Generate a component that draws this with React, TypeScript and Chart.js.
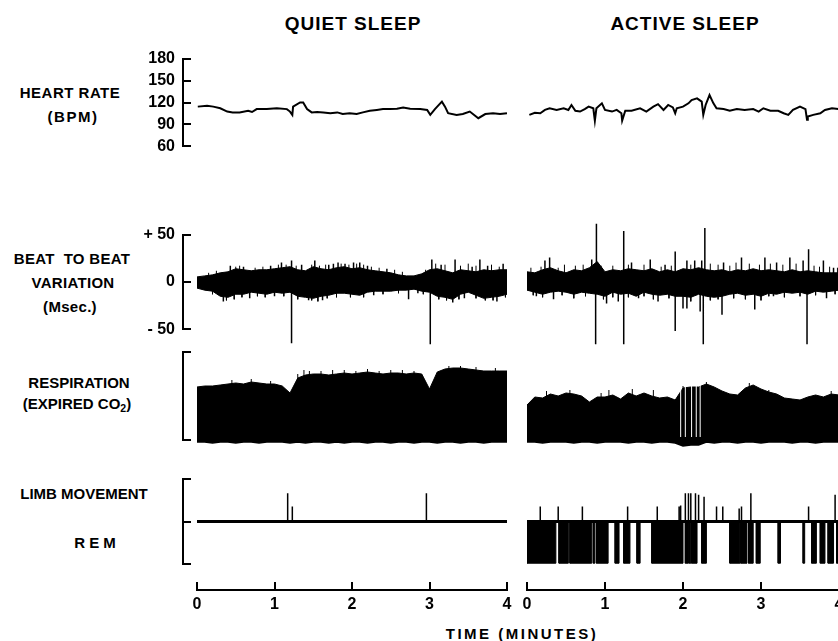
import React, { useEffect, useRef } from "react";
import { Chart, registerables } from "chart.js";

Chart.register(...registerables);

const FONT = '"Liberation Sans", Arial, Helvetica, sans-serif';

// ---------------- data ----------------
const TIME_TICKS = [0, 1, 2, 3, 4];
const HR_TICKS = [60, 90, 120, 150, 180];
const HR_TICK_LABELS = ["60", "90", "120", "150", "180"];
const BB_TICKS = [-50, 0, 50];
const BB_TICK_LABELS = ["- 50", "0", "+ 50"];
const RESP_TICKS = [0, 100];
const LIMB_TICKS = [-1, 0, 1];

// Heart rate (bpm) vs time (min)
const hrQuietTime = [0.01, 0.13, 0.21, 0.3, 0.39, 0.46, 0.55, 0.66, 0.71, 0.77, 0.9, 1.03, 1.16, 1.2, 1.23, 1.24, 1.33, 1.37, 1.42, 1.48, 1.55, 1.63, 1.72, 1.81, 1.88, 1.97, 2.06, 2.14, 2.23, 2.32, 2.4, 2.49, 2.58, 2.66, 2.75, 2.88, 2.97, 3.01, 3.07, 3.16, 3.2, 3.24, 3.35, 3.43, 3.52, 3.63, 3.72, 3.82, 3.91, 4.0];
const hrQuietBpm = [115, 116, 115, 113, 109, 108, 108, 110, 108.5, 112, 112, 113, 112, 109, 105, 115, 120, 120, 112, 108, 108.5, 108, 107, 108, 106, 107, 106, 108, 110, 111, 112, 112, 112.5, 114, 112.5, 112, 111, 105, 112, 121, 115, 107, 105, 106, 109, 101, 106, 107, 106, 107];
const hrActiveTime = [0.03, 0.1, 0.17, 0.23, 0.29, 0.38, 0.47, 0.53, 0.57, 0.62, 0.68, 0.74, 0.79, 0.85, 0.87, 0.89, 0.96, 1.0, 1.09, 1.15, 1.21, 1.22, 1.26, 1.34, 1.45, 1.53, 1.62, 1.68, 1.75, 1.81, 1.87, 1.9, 1.92, 2.0, 2.07, 2.11, 2.18, 2.24, 2.26, 2.29, 2.34, 2.39, 2.43, 2.52, 2.6, 2.69, 2.79, 2.9, 2.97, 3.03, 3.12, 3.22, 3.29, 3.35, 3.41, 3.5, 3.57, 3.59, 3.6, 3.67, 3.76, 3.82, 3.91, 3.99];
const hrActiveBpm = [105, 107.6, 107, 111, 113, 111, 113, 111, 117, 110, 109, 112, 115, 113, 98, 113, 119, 111, 109, 111, 107, 98, 110, 110, 113, 109, 115, 118, 111, 117, 114, 107, 113, 115, 119, 123, 125, 121, 105, 117, 129, 119, 113, 112, 110, 112, 111, 112, 109, 113, 110, 110, 107, 105, 111, 115, 112, 99, 103, 105, 107, 111, 113, 112];

// Beat-to-beat variation (msec): dense envelope sampled every 0.1 min, plus individual excursions
const SAMPLE_STEP = 0.1;
const bbQuietUpper = [5, 6, 7, 9, 10, 13, 12, 11, 12, 12, 13, 14, 15, 12, 11, 15, 13, 12, 14, 15, 13, 14, 12, 11, 10, 9, 7, 6, 6, 8, 12, 13, 11, 9, 12, 11, 10, 12, 11, 12, 12];
const bbQuietLower = [-6, -8, -9, -14, -15, -12, -12, -10, -11, -12, -10, -11, -10, -14, -15, -16, -14, -13, -11, -11, -12, -13, -10, -9, -9, -9, -8, -8, -7, -9, -10, -14, -15, -17, -12, -10, -13, -16, -15, -14, -12];
const bbQuietSpikeTime = [0.34, 0.43, 0.6, 0.68, 0.95, 1.0, 1.09, 1.22, 1.22, 1.35, 1.44, 1.52, 1.62, 1.7, 1.76, 1.82, 1.91, 2.02, 2.1, 2.2, 2.28, 2.45, 2.73, 2.85, 3.01, 3.03, 3.15, 3.3, 3.33, 3.45, 3.55, 3.65, 3.75, 3.87, 3.95];
const bbQuietSpikeMs = [-19, 16, 15, -16, 16, -14, 19, 21, -60, 17, -18, 21, -18, 17, 18, 19, 18, 19, 19, 16, -13, 13, -17, -11, -61, 22, 17, -20, 22, -16, 15, 22, 16, -19, 18];
const bbQuietHairTime = [0.15, 0.25, 0.5, 0.55, 0.75, 0.85, 1.05, 1.15, 1.28, 1.48, 1.58, 1.66, 1.86, 1.96, 2.06, 2.15, 2.25, 2.35, 2.55, 2.65, 2.95, 3.08, 3.2, 3.4, 3.5, 3.6, 3.8, 3.9, 0.2, 0.38, 0.48, 0.58, 0.78, 0.88, 1.12, 1.3, 1.48, 1.56, 1.68, 1.8, 1.98, 2.15, 2.4, 2.6, 2.92, 3.12, 3.22, 3.38, 3.6, 3.72, 3.82, 3.98];
const bbQuietHairMs = [9, 11, 15, 16, 14, 15, 17, 17, 16, 17, 16, 17, 18, 17, 18, 17, 15, 14, 12, 10, 12, 18, 17, 16, 18, 16, 17, 15, -12, -18, -17, -15, -14, -15, -14, -17, -18, -19, -16, -15, -15, -15, -12, -11, -12, -17, -18, -17, -16, -18, -18, -15];
const bbActiveUpper = [10, 9, 12, 14, 11, 9, 12, 11, 14, 20, 10, 12, 11, 13, 12, 11, 13, 10, 12, 10, 13, 12, 14, 12, 11, 12, 10, 12, 11, 13, 11, 12, 11, 10, 12, 10, 11, 10, 9, 9, 9];
const bbActiveLower = [-8, -10, -12, -10, -9, -10, -12, -10, -11, -12, -14, -10, -12, -11, -14, -10, -12, -13, -12, -14, -14, -15, -12, -14, -15, -14, -12, -11, -13, -12, -14, -11, -12, -10, -11, -10, -12, -9, -10, -9, -8];
const bbActiveSpikeTime = [0.12, 0.23, 0.29, 0.34, 0.83, 0.88, 0.89, 1.02, 1.17, 1.24, 1.24, 1.34, 1.43, 1.58, 1.68, 1.77, 1.9, 1.9, 2.0, 2.05, 2.05, 2.15, 2.22, 2.24, 2.26, 2.28, 2.5, 2.52, 2.75, 2.92, 3.05, 3.16, 3.2, 3.37, 3.54, 3.59, 3.61, 3.8, 3.84, 3.93];
const bbActiveSpikeMs = [-14, 21, 24, -17, 22, -61, 57, -21, -19, -61, 50, 19, -16, 22, -19, 17, 30, -48, -26, -26, 21, 21, -29, 21, -61, 53, -32, 19, 24, -27, 24, -14, 19, 24, 21, -61, 32, 21, -16, 14];
const bbActiveHairTime = [0.05, 0.18, 0.4, 0.48, 0.62, 0.72, 0.95, 1.1, 1.3, 1.5, 1.72, 1.85, 2.1, 2.35, 2.45, 2.6, 2.68, 2.85, 2.98, 3.12, 3.28, 3.45, 3.68, 3.75, 3.88, 3.98, 0.08, 0.2, 0.45, 0.6, 0.75, 0.98, 1.1, 1.3, 1.5, 1.62, 1.82, 2.1, 2.35, 2.45, 2.65, 2.8, 3.0, 3.1, 3.3, 3.5, 3.7, 3.95];
const bbActiveHairMs = [14, 15, 14, 17, 16, 17, 16, 16, 17, 17, 15, 16, 17, 18, 17, 16, 19, 18, 17, 18, 17, 18, 16, 15, 15, 14, -13, -15, -13, -16, -14, -17, -15, -15, -14, -17, -16, -19, -18, -17, -16, -17, -18, -14, -15, -14, -13, -12];

// Respiration (expired CO2, relative units 0-100), sampled every 0.1 min, plus single breaths
const respQuietTop = [59, 60, 60, 61, 62, 63, 62, 64, 63, 62, 62, 60, 53, 68, 71, 72, 72, 71, 72, 73, 72, 73, 74, 73, 72, 73, 73, 72, 73, 72, 57, 74, 77, 78, 78, 77, 76, 75, 75, 75, 75];
const respQuietBase = [4, 4, 3, 4, 4, 3, 4, 4, 3, 4, 4, 4, 3, 4, 3, 4, 4, 3, 4, 3, 4, 4, 3, 4, 4, 3, 4, 4, 3, 4, 4, 3, 4, 4, 3, 4, 4, 3, 4, 4, 4];
const respQuietPeakTime = [0.45, 0.7, 0.95, 1.3, 1.38, 1.45, 1.6, 1.75, 1.9, 2.05, 2.2, 2.35, 2.5, 2.65, 2.8, 3.25, 3.4, 3.6, 3.85];
const respQuietPeak = [66, 67, 65, 72, 76, 75, 75, 76, 76, 75, 77, 75, 76, 76, 75, 80, 80, 79, 78];
const respActiveTop = [41, 49, 48, 52, 50, 53, 52, 50, 44, 49, 49, 51, 47, 53, 50, 53, 50, 48, 49, 46, 58, 59, 59, 62, 59, 55, 52, 51, 58, 61, 57, 54, 52, 48, 47, 46, 49, 51, 49, 52, 51];
const respActiveBase = [4, 4, 3, 4, 4, 4, 3, 4, 4, 3, 4, 4, 4, 3, 4, 4, 3, 4, 4, 3, 0, 1, 1, 4, 3, 4, 4, 3, 4, 4, 3, 4, 4, 4, 3, 4, 4, 3, 4, 4, 4];
const respActivePeakTime = [0.25, 0.55, 0.95, 1.05, 1.35, 1.62, 2.0, 2.3, 2.85, 3.1, 3.9];
const respActivePeak = [55, 56, 53, 56, 57, 56, 60, 64, 63, 56, 55];
const respActiveTroughTime = [1.97, 2.03, 2.11, 2.17, 2.22];
const respActiveTroughLevel = [9, 9, 9, 9, 9];

// Limb movement (up) and REM (down), relative units
const REM_DEPTH = -0.86;
const limbQuietTime = [1.17, 1.23, 2.96];
const limbQuietLevel = [0.58, 0.31, 0.58];
const limbActiveTime = [0.17, 0.4, 0.71, 1.29, 1.67, 1.95, 1.97, 2.03, 2.07, 2.1, 2.16, 2.2, 2.27, 2.43, 2.51, 2.72, 2.75, 2.87, 3.61, 3.95];
const limbActiveLevel = [0.31, 0.31, 0.31, 0.31, 0.31, 0.31, 0.33, 0.58, 0.58, 0.58, 0.58, 0.55, 0.51, 0.31, 0.31, 0.27, 0.31, 0.58, 0.31, 0.55];
const remActiveStart = [0.0, 0.41, 0.55, 0.85, 0.89, 1.13, 1.24, 1.41, 1.6, 2.03, 2.08, 2.11, 2.24, 2.6, 2.74, 2.84, 2.94, 3.22, 3.54, 3.65, 3.76, 3.86, 3.97];
const remActiveEnd = [0.37, 0.53, 0.83, 0.87, 1.04, 1.18, 1.32, 1.45, 2.0, 2.07, 2.1, 2.18, 2.3, 2.73, 2.82, 2.9, 2.99, 3.25, 3.56, 3.71, 3.82, 3.93, 4.0];

// ---------------- helpers ----------------
const pts = (ts: number[], vs: number[]) => ts.map((t, i) => ({ x: t, y: vs[i] }));
const sampled = (vs: number[]) => vs.map((v, i) => ({ x: Math.round(i * SAMPLE_STEP * 100) / 100, y: v }));
const spikePts = (ts: number[], vs: number[], base: number[] | number = 0) =>
  ts.flatMap((t, i) => [
    { x: t, y: Array.isArray(base) ? base[i] : base },
    { x: t, y: vs[i] },
    { x: t, y: null as any },
  ]);
const blockPts = (starts: number[], ends: number[], depth: number) =>
  starts.flatMap((s, i) => [
    { x: s, y: 0 },
    { x: s, y: depth },
    { x: ends[i], y: depth },
    { x: ends[i], y: 0 },
  ]);

const BLACK = "#000";

const baseOptions = (padTop: number, padBottom: number, padLeft = 0, padRight = 0) => ({
  animation: false,
  responsive: false,
  maintainAspectRatio: false,
  devicePixelRatio: 1,
  events: [],
  layout: { padding: { top: padTop, bottom: padBottom, left: padLeft, right: padRight } },
  plugins: { legend: { display: false }, tooltip: { enabled: false }, title: { display: false } },
  elements: { point: { radius: 0, hoverRadius: 0, hitRadius: 0 }, line: { tension: 0 } },
});

function traceConfig(datasets: any[], yMin: number, yMax: number, pad: number) {
  return {
    type: "line",
    data: { datasets },
    options: {
      ...baseOptions(pad, pad),
      scales: {
        x: { type: "linear", min: 0, max: 4, display: false },
        y: { type: "linear", min: yMin, max: yMax, display: false },
      },
    },
  };
}

const Y_AXIS_W = 96;
function yAxisConfig(yMin: number, yMax: number, ticks: number[], labels: string[] | null, pad: number) {
  return {
    type: "line",
    data: { datasets: [] },
    options: {
      ...baseOptions(pad, pad, 0, 1),
      scales: {
        x: { type: "linear", min: 0, max: 1, display: false },
        y: {
          type: "linear",
          position: "left",
          min: yMin,
          max: yMax,
          afterBuildTicks: (s: any) => {
            s.ticks = ticks.map((v) => ({ value: v }));
          },
          afterFit: (s: any) => {
            s.width = Y_AXIS_W - 1 - 8;
          },
          ticks: {
            padding: 8,
            color: BLACK,
            font: { family: FONT, size: 16, weight: "bold" },
            callback: (_v: any, i: number) => (labels ? labels[i] : ""),
          },
          grid: { display: true, drawOnChartArea: true, drawTicks: false, color: BLACK, lineWidth: 2 },
          border: { display: true, color: BLACK, width: 2 },
        },
      },
    },
  };
}

function timeAxisConfig() {
  return {
    type: "line",
    data: { datasets: [] },
    options: {
      ...baseOptions(12, 0, 10, 10),
      scales: {
        x: {
          type: "linear",
          position: "bottom",
          min: 0,
          max: 4,
          afterBuildTicks: (s: any) => {
            s.ticks = TIME_TICKS.map((v) => ({ value: v }));
          },
          afterFit: (s: any) => {
            s.height = 40;
          },
          ticks: {
            padding: 5,
            color: BLACK,
            maxRotation: 0,
            autoSkip: false,
            font: { family: FONT, size: 16, weight: "bold" },
            callback: (_v: any, i: number) => String(TIME_TICKS[i]),
          },
          grid: { display: true, drawOnChartArea: true, drawTicks: false, color: BLACK, lineWidth: 2 },
          border: { display: true, color: BLACK, width: 2 },
        },
        y: { display: false, min: 0, max: 1 },
      },
    },
  };
}

const line = (data: any[], width: number, extra: any = {}) => ({
  data,
  borderColor: BLACK,
  borderWidth: width,
  fill: false,
  spanGaps: false,
  clip: false,
  ...extra,
});

// ---------------- rows ----------------
const ROW = {
  hr: { top: 41, height: 123, pad: 12 },
  bb: { top: 217, height: 130, pad: 14 },
  resp: { top: 334, height: 124, pad: 12 },
  limb: { top: 461, height: 121, pad: 12 },
};
const LEFT_X = 197;
const LEFT_W = 310;
const RIGHT_X = 527;
const RIGHT_W = 312;

function ChartCanvas({ left, top, width, height, make }: { left: number; top: number; width: number; height: number; make: () => any }) {
  const ref = useRef<HTMLCanvasElement>(null);
  useEffect(() => {
    const chart = new Chart(ref.current as HTMLCanvasElement, make());
    return () => chart.destroy();
  }, []);
  return (
    <canvas
      ref={ref}
      width={width}
      height={height}
      style={{ position: "absolute", left, top, width, height, display: "block" }}
    />
  );
}

const hrSet = (t: number[], v: number[]) => [line(pts(t, v), 2)];
const bbSet = (up: number[], lo: number[], st: number[], sv: number[], ht: number[], hv: number[]) => [
  line(sampled(lo), 1, { order: 2 }),
  line(sampled(up), 1, { fill: "-1", backgroundColor: BLACK, order: 1 }),
  line(spikePts(st, sv), 1.5, { order: 0 }),
  line(spikePts(ht, hv), 1, { order: 0 }),
];
const respSet = (top: number[], base: number[], pt: number[], pv: number[], trT: number[] = [], trL: number[] = []) => [
  line(sampled(base), 1.5, { order: 3 }),
  line(sampled(top), 1, { fill: "-1", backgroundColor: BLACK, order: 2 }),
  line(spikePts(pt, pv, 10), 1, { order: 1 }),
  line(spikePts(trT, trT.map(() => 62), trL), 1, { borderColor: "#fff", order: 0 }),
];

const TEXTS: { text: React.ReactNode; x: number; y: number; size: number; ls: number }[] = [
  { text: "QUIET SLEEP", x: 353, y: 23, size: 19, ls: 1 },
  { text: "ACTIVE SLEEP", x: 685, y: 23, size: 19, ls: 1 },
  { text: "HEART RATE", x: 70, y: 92, size: 15, ls: 0.5 },
  { text: "(BPM)", x: 73, y: 116, size: 15, ls: 1.5 },
  { text: "BEAT  TO BEAT", x: 72, y: 258, size: 15, ls: 0.3 },
  { text: "VARIATION", x: 73, y: 282, size: 15, ls: 0.3 },
  { text: "(Msec.)", x: 70, y: 306, size: 15, ls: 0.3 },
  { text: "RESPIRATION", x: 79, y: 382, size: 15, ls: 0 },
  {
    text: (
      <>
        (EXPIRED CO<sub style={{ fontSize: "0.7em", verticalAlign: "-0.3em", lineHeight: 0 }}>2</sub>)
      </>
    ),
    x: 77,
    y: 403,
    size: 15,
    ls: 0,
  },
  { text: "LIMB MOVEMENT", x: 84, y: 493, size: 15, ls: 0 },
  { text: "REM", x: 97, y: 542, size: 15, ls: 4 },
  { text: "TIME (MINUTES)", x: 522, y: 633, size: 15, ls: 2.5 },
];

export default function App() {
  const axisLeft = 192 - Y_AXIS_W;
  return (
    <div
      style={{
        position: "absolute",
        left: 0,
        top: 0,
        width: 838,
        height: 641,
        overflow: "hidden",
        background: "#fff",
      }}
    >
      {TEXTS.map((t, i) => (
        <div
          key={i}
          style={{
            position: "absolute",
            left: t.x,
            top: t.y,
            transform: "translate(-50%, -50%)",
            fontFamily: FONT,
            fontWeight: "bold",
            fontSize: t.size,
            letterSpacing: t.ls,
            lineHeight: 1,
            whiteSpace: "pre",
            color: BLACK,
          }}
        >
          {t.text}
        </div>
      ))}

      {/* y axes */}
      <ChartCanvas left={axisLeft} top={ROW.hr.top} width={Y_AXIS_W} height={ROW.hr.height} make={() => yAxisConfig(60, 180, HR_TICKS, HR_TICK_LABELS, ROW.hr.pad)} />
      <ChartCanvas left={axisLeft} top={ROW.bb.top} width={Y_AXIS_W} height={ROW.bb.height} make={() => yAxisConfig(-50, 50, BB_TICKS, BB_TICK_LABELS, ROW.bb.pad)} />
      <ChartCanvas left={axisLeft} top={ROW.resp.top} width={Y_AXIS_W} height={ROW.resp.height} make={() => yAxisConfig(0, 100, RESP_TICKS, null, ROW.resp.pad)} />
      <ChartCanvas left={axisLeft} top={ROW.limb.top} width={Y_AXIS_W} height={ROW.limb.height} make={() => yAxisConfig(-1, 1, LIMB_TICKS, null, ROW.limb.pad)} />

      {/* heart rate */}
      <ChartCanvas left={LEFT_X} top={ROW.hr.top} width={LEFT_W} height={ROW.hr.height} make={() => traceConfig(hrSet(hrQuietTime, hrQuietBpm), 60, 180, ROW.hr.pad)} />
      <ChartCanvas left={RIGHT_X} top={ROW.hr.top} width={RIGHT_W} height={ROW.hr.height} make={() => traceConfig(hrSet(hrActiveTime, hrActiveBpm), 60, 180, ROW.hr.pad)} />

      {/* beat to beat */}
      <ChartCanvas left={LEFT_X} top={ROW.bb.top} width={LEFT_W} height={ROW.bb.height} make={() => traceConfig(bbSet(bbQuietUpper, bbQuietLower, bbQuietSpikeTime, bbQuietSpikeMs, bbQuietHairTime, bbQuietHairMs), -50, 50, ROW.bb.pad)} />
      <ChartCanvas left={RIGHT_X} top={ROW.bb.top} width={RIGHT_W} height={ROW.bb.height} make={() => traceConfig(bbSet(bbActiveUpper, bbActiveLower, bbActiveSpikeTime, bbActiveSpikeMs, bbActiveHairTime, bbActiveHairMs), -50, 50, ROW.bb.pad)} />

      {/* respiration */}
      <ChartCanvas left={LEFT_X} top={ROW.resp.top} width={LEFT_W} height={ROW.resp.height} make={() => traceConfig(respSet(respQuietTop, respQuietBase, respQuietPeakTime, respQuietPeak), 0, 100, ROW.resp.pad)} />
      <ChartCanvas left={RIGHT_X} top={ROW.resp.top} width={RIGHT_W} height={ROW.resp.height} make={() => traceConfig(respSet(respActiveTop, respActiveBase, respActivePeakTime, respActivePeak, respActiveTroughTime, respActiveTroughLevel), 0, 100, ROW.resp.pad)} />

      {/* limb movement / REM */}
      <ChartCanvas
        left={LEFT_X}
        top={ROW.limb.top}
        width={LEFT_W}
        height={ROW.limb.height}
        make={() =>
          traceConfig(
            [line([{ x: 0, y: 0 }, { x: 4, y: 0 }], 3), line(spikePts(limbQuietTime, limbQuietLevel), 1.5)],
            -1,
            1,
            ROW.limb.pad
          )
        }
      />
      <ChartCanvas
        left={RIGHT_X}
        top={ROW.limb.top}
        width={RIGHT_W}
        height={ROW.limb.height}
        make={() =>
          traceConfig(
            [
              line(blockPts(remActiveStart, remActiveEnd, REM_DEPTH), 1, { fill: "origin", backgroundColor: BLACK }),
              line([{ x: 0, y: 0 }, { x: 4, y: 0 }], 3),
              line(spikePts(limbActiveTime, limbActiveLevel), 1.5),
            ],
            -1,
            1,
            ROW.limb.pad
          )
        }
      />

      {/* time axes */}
      <ChartCanvas left={LEFT_X - 10} top={570} width={LEFT_W + 20} height={60} make={() => timeAxisConfig()} />
      <ChartCanvas left={RIGHT_X - 10} top={570} width={RIGHT_W + 20} height={60} make={() => timeAxisConfig()} />
    </div>
  );
}
